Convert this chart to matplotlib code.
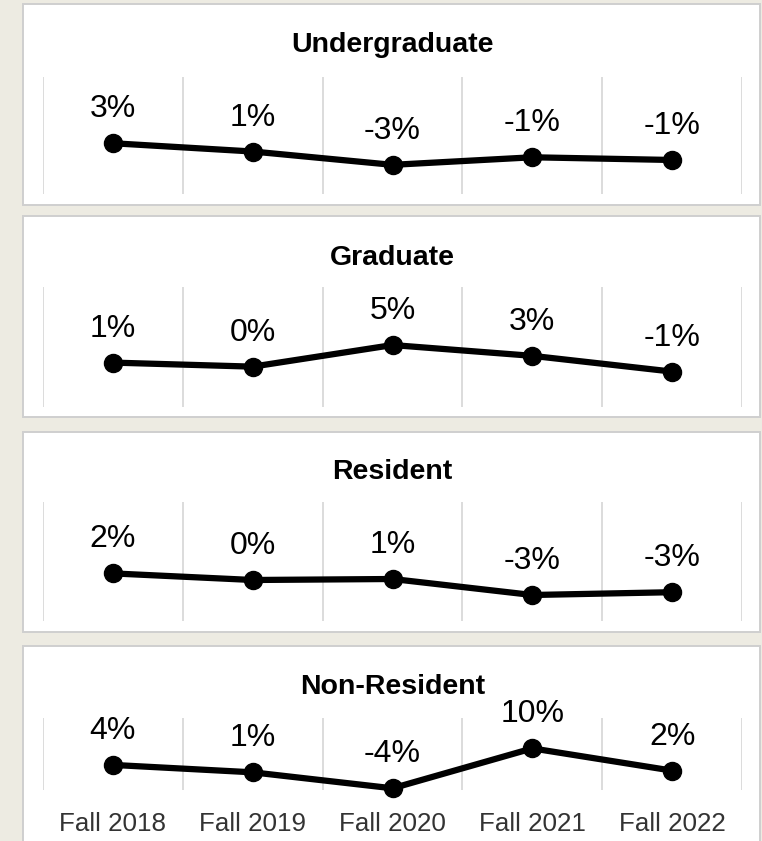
import numpy as np
import matplotlib
matplotlib.use("Agg")
import matplotlib.pyplot as plt
from matplotlib.patches import Rectangle

plt.rcParams['font.family'] = ['Liberation Sans', 'DejaVu Sans']

# data (percent change)
terms = ['Fall 2018', 'Fall 2019', 'Fall 2020', 'Fall 2021', 'Fall 2022']
titles = ['Undergraduate', 'Graduate', 'Resident', 'Non-Resident']
undergrad = [3.3, 1.0, -2.7, -0.6, -1.35]
graduate = [1.2, 0.3, 5.1, 2.7, -0.8]
resident = [2.1, 0.45, 0.7, -3.3, -2.6]
nonresident = [4.0, 1.4, -4.2, 9.8, 2.0]
series = [undergrad, graduate, resident, nonresident]

W, H = 762, 841
bg = '#EDEBE2'
fig = plt.figure(figsize=(W / 100, H / 100), dpi=100, facecolor=bg)

# layout in pixels (top, bottom)
panels = [(4, 205), (216, 417), (432, 632), (646, 900)]
plot_area = [(77, 194), (287, 407), (502, 621), (718, 790)]
title_base = [52, 265, 479, 694]
ylims = [(-10.8, 21.7), (-8.67, 18.0), (-9.8, 19.95), (-4.8, 20.46)]
x0, x1 = 43, 742

def fy(y):
    return 1 - y / H

for i, vals in enumerate(series):
    pt, pb = panels[i]
    fig.patches.append(Rectangle((23 / W, fy(pb)), (760 - 23) / W, (pb - pt) / H,
                                 transform=fig.transFigure, facecolor='white',
                                 edgecolor='#CFCFCF', linewidth=1.4, zorder=-5))
    fig.text(((x0 + x1) / 2) / W, fy(title_base[i]), titles[i], ha='center',
             va='baseline', fontsize=20.5, fontweight='bold', color='black')

    at, ab = plot_area[i]
    ax = fig.add_axes([x0 / W, fy(ab), (x1 - x0) / W, (ab - at) / H])
    ax.patch.set_alpha(0)
    x = np.arange(len(terms))
    ax.plot(x, vals, color='black', linewidth=4.5, marker='o', markersize=13,
            solid_capstyle='round', clip_on=False, zorder=3)
    for xi, v in zip(x, vals):
        ax.annotate(f"{round(v):.0f}%", (xi, v), xytext=(0, 18.7),
                    textcoords='offset points', ha='center', va='baseline',
                    fontsize=23, color='black')
    ax.set_xlim(-0.5, len(terms) - 0.5)
    ax.set_ylim(*ylims[i])
    ax.set_yticks([])
    ax.set_xticks(np.arange(-0.5, len(terms), 1), minor=True)
    ax.grid(axis='x', which='minor', color='#DCDCDC', linewidth=1.4)
    ax.tick_params(which='both', length=0)
    for s in ax.spines.values():
        s.set_visible(False)
    if i == len(series) - 1:
        ax.set_xticks(x)
        ax.set_xticklabels(terms, fontsize=18.7, color='#333333')
        ax.tick_params(axis='x', which='major', pad=16)
    else:
        ax.set_xticks([])

fig.savefig('out.png', dpi=100, facecolor=bg)
